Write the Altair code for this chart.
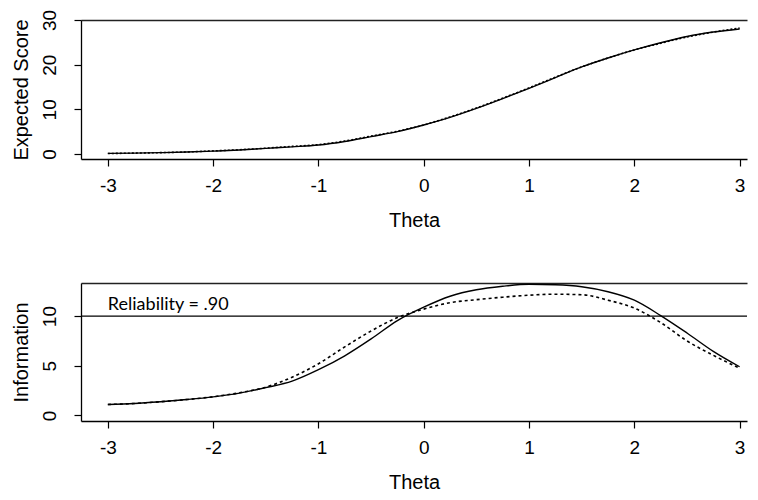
import altair as alt
import pandas as pd

# ---- data ----
theta = [-3.0, -2.75, -2.5, -2.25, -2.0, -1.75, -1.5, -1.25, -1.0, -0.75, -0.5, -0.25,
         0.0, 0.25, 0.5, 0.75, 1.0, 1.25, 1.5, 1.75, 2.0, 2.25, 2.5, 2.75, 3.0]

score_solid = [0.15, 0.2, 0.3, 0.45, 0.65, 0.9, 1.25, 1.6, 2.0, 2.8, 3.9, 5.0,
               6.5, 8.2, 10.2, 12.4, 14.7, 17.1, 19.5, 21.5, 23.3, 24.9, 26.3, 27.3, 28.0]
score_dotted = [0.1, 0.2, 0.3, 0.45, 0.7, 0.95, 1.3, 1.7, 2.1, 2.9, 4.0, 5.1,
                6.5, 8.3, 10.3, 12.5, 14.8, 17.2, 19.5, 21.5, 23.3, 24.8, 26.2, 27.3, 28.2]

info_solid = [1.1, 1.2, 1.38, 1.6, 1.87, 2.25, 2.8, 3.45, 4.6, 6.0, 7.7, 9.55,
              10.9, 12.0, 12.65, 13.0, 13.2, 13.15, 12.95, 12.45, 11.6, 10.05, 8.3, 6.45, 4.9]
info_dotted = [1.1, 1.2, 1.38, 1.6, 1.88, 2.28, 2.85, 3.85, 5.2, 6.9, 8.5, 9.85,
               10.7, 11.35, 11.65, 11.9, 12.1, 12.2, 12.15, 11.6, 10.8, 9.35, 7.5, 6.05, 4.75]

x_ticks = [-3, -2, -1, 0, 1, 2, 3]
score_ticks = [0, 10, 20, 30]
info_ticks = [0, 5, 10]
reliability_info = [10]
reliability_label = ["Reliability = .90"]
reliability_theta = [-3]

FONT = "Liberation Sans"
W = 666

df_score = pd.DataFrame({"Theta": theta, "solid": score_solid, "dotted": score_dotted})
df_info = pd.DataFrame({"Theta": theta, "solid": info_solid, "dotted": info_dotted})
df_rel = pd.DataFrame({"Theta": reliability_theta, "y": reliability_info, "label": reliability_label})

xscale = alt.Scale(domain=[-3.255, 3.07], nice=False, zero=False)

x_bottom = alt.X("Theta:Q", scale=xscale,
                 axis=alt.Axis(values=x_ticks, title="Theta", labelExpr="toString(datum.value)",
                               labelFlush=False))
x_top = alt.X("Theta:Q", scale=xscale,
              axis=alt.Axis(orient="top", labels=False, ticks=False, title=None, domain=True,
                            domainWidth=1.4, domainColor="#222"))


def yaxis(ticks, title, h):
    return alt.Axis(values=ticks, title=title, labelAngle=270, labelAlign="center",
                    labelBaseline="middle", labelPadding=25, titleX=-60, titleY=h / 2,
                    titleAngle=270, titleBaseline="middle", titleAlign="center")


H1 = 139
H2 = 138

s1 = alt.Chart(df_score).mark_line(color="black", strokeWidth=1.4, interpolate="monotone").encode(
    x=x_bottom,
    y=alt.Y("solid:Q", scale=alt.Scale(domain=[-1.12, 30], nice=False, zero=False),
            axis=yaxis(score_ticks, "Expected Score", H1)),
)
d1 = alt.Chart(df_score).mark_line(color="black", strokeWidth=1.6, strokeDash=[2, 2],
                                   interpolate="monotone").encode(
    x=x_top,
    y=alt.Y("dotted:Q", axis=None),
)
top = alt.layer(s1, d1).resolve_axis(x="independent", y="independent").properties(width=W, height=H1)

s2 = alt.Chart(df_info).mark_line(color="black", strokeWidth=1.4, interpolate="monotone").encode(
    x=x_bottom,
    y=alt.Y("solid:Q", scale=alt.Scale(domain=[-0.56, 13.33], nice=False, zero=False),
            axis=yaxis(info_ticks, "Information", H2)),
)
d2 = alt.Chart(df_info).mark_line(color="black", strokeWidth=1.6, strokeDash=[3, 3],
                                  interpolate="monotone").encode(
    x=x_top,
    y=alt.Y("dotted:Q", axis=None),
)
rule = alt.Chart(df_rel).mark_rule(color="black", strokeWidth=1.4).encode(
    y=alt.Y("y:Q", axis=None),
)
txt = alt.Chart(df_rel).mark_text(align="left", baseline="alphabetic", dy=-6,
                                  font="Lato", fontSize=18, color="black").encode(
    x=alt.X("Theta:Q", axis=None),
    y=alt.Y("y:Q", axis=None),
    text="label:N",
)
bottom = alt.layer(s2, d2, rule, txt).resolve_axis(x="independent", y="independent").properties(
    width=W, height=H2)

chart = alt.vconcat(top, bottom, spacing=51).properties(
    padding={"left": 3, "top": 1, "right": 0, "bottom": 0},
    background="white",
).configure_view(stroke=None).configure_axis(
    grid=False,
    domainColor="black",
    domainWidth=1.3,
    tickColor="black",
    tickSize=7,
    tickWidth=1.2,
    labelFont=FONT,
    labelFontSize=19,
    labelColor="black",
    titleFont=FONT,
    titleFontSize=20,
    titleFontWeight="normal",
    titleColor="black",
).configure_axisBottom(
    labelPadding=10,
    titlePadding=15,
)

chart.save("out.html", embed_options={"renderer": "svg", "actions": False})
